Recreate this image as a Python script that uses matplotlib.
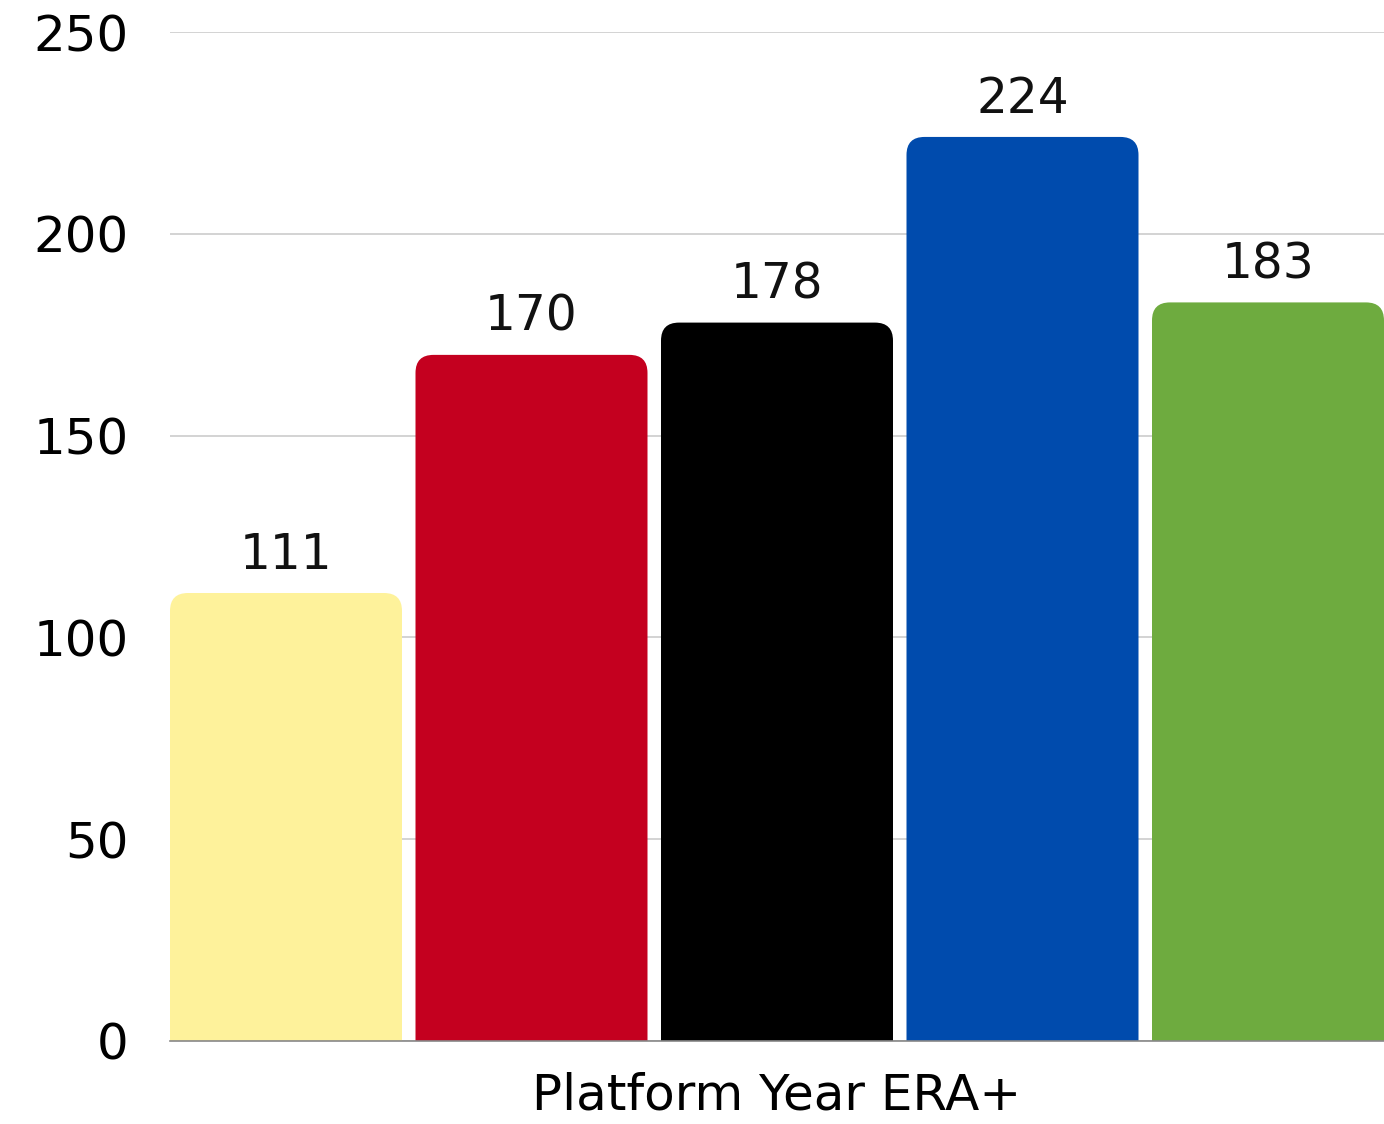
import matplotlib
matplotlib.use("Agg")
import matplotlib.pyplot as plt
from matplotlib.patches import FancyBboxPatch

# data
categories = ["A", "B", "C", "D", "E"]
values = [111, 170, 178, 224, 183]
colors = ["#FEF29B", "#C4001F", "#000000", "#004BAD", "#6EAB3F"]
yticks = [0, 50, 100, 150, 200, 250]
xlabel = "Platform Year ERA+"

plt.rcParams['font.family'] = ['DejaVu Sans']

fig = plt.figure(figsize=(13.84, 11.24), dpi=100)
ax = fig.add_axes([170 / 1384, 83 / 1124, 1214 / 1384, 1009 / 1124])

w = 0.945
ax.set_xlim(-w / 2, len(values) - 1 + w / 2)
ax.set_ylim(0, 250)

# pixel per data unit ratio for even rounded corners
px_x = 1214 / (len(values) - 1 + w)
px_y = 1009 / 250
aspect = px_x / px_y
rad = 18 / px_x

for i, (v, c) in enumerate(zip(values, colors)):
    box = FancyBboxPatch((i - w / 2, -20), w, v + 20,
                         boxstyle=f"round,pad=0,rounding_size={rad}",
                         mutation_aspect=aspect, facecolor=c,
                         edgecolor="none", zorder=3)
    ax.add_patch(box)
    ax.text(i, v + 3.5, str(v), ha="center", va="bottom", fontsize=35, color="#111111")

ax.set_yticks(yticks)
ax.set_yticklabels([str(t) for t in yticks], fontsize=36)
ax.set_xticks([])
ax.tick_params(axis="y", length=0, pad=30)
ax.grid(axis="y", color="#CCCCCC", linewidth=1.2, zorder=0)
ax.set_axisbelow(True)
for s in ["top", "right", "left"]:
    ax.spines[s].set_visible(False)
ax.spines["bottom"].set_color("#888888")
ax.spines["bottom"].set_linewidth(1.2)
ax.spines["bottom"].set_zorder(4)

ax.set_xlabel(xlabel, fontsize=36, labelpad=22)

fig.savefig("out.png", dpi=100)
